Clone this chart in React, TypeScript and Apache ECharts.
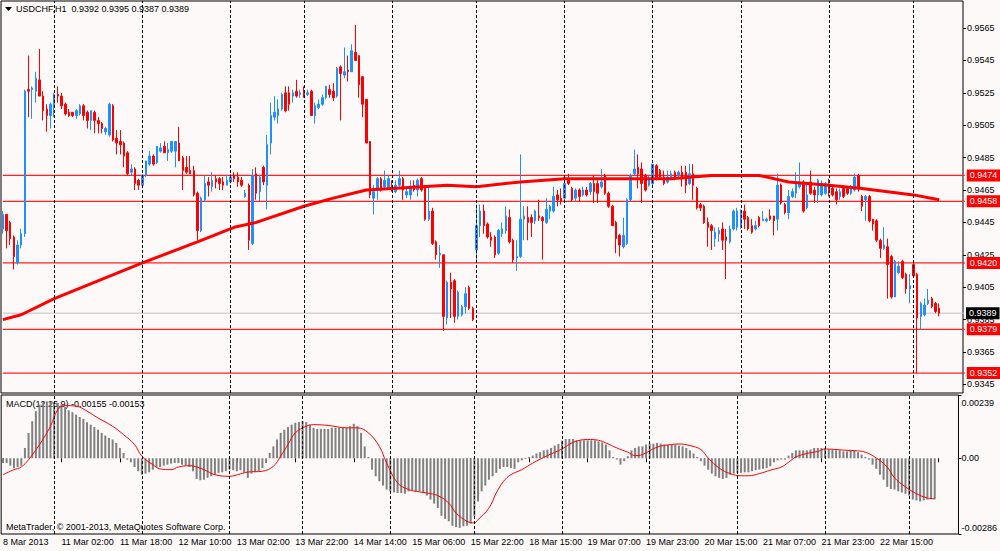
import React, { useEffect, useRef } from "react";
import * as echarts from "echarts";

const FONT = '"Liberation Sans", Arial, sans-serif';
const BG = "#fcf9f8";
const BULL = "#1e90ff";
const BEAR = "#ff0000";

// trading sessions: [day, first hour, last hour]
const SESSIONS: [string, number, number][] = [
  ["8 Mar", 10, 23], ["11 Mar", 0, 23], ["12 Mar", 0, 23], ["13 Mar", 0, 13], ["13 Mar", 18, 23],
  ["14 Mar", 0, 23], ["15 Mar", 0, 22], ["18 Mar", 0, 23], ["19 Mar", 0, 23], ["20 Mar", 0, 23],
  ["21 Mar", 0, 23], ["22 Mar", 0, 22], ["23 Mar", 0, 7],
];
const FIRST_LABEL = "8 Mar 2013";
const RIGHT_PAD = 6;

const PRICE_TICKS = [0.9345, 0.9365, 0.9385, 0.9405, 0.9425, 0.9445, 0.9465, 0.9485, 0.9505, 0.9525, 0.9545, 0.9565];
const MACD_TICKS = [0.00239, 0, -0.00286];
const LEVELS = [0.9474, 0.9458, 0.942, 0.9379, 0.9352];
const BID = 0.9389;
const TITLE = "USDCHF,H1  0.9392 0.9395 0.9387 0.9389";
const MACD_TITLE = "MACD(12,26,9) -0.00155 -0.00153";
const COPYRIGHT = "MetaTrader, \u00a9 2001-2013, MetaQuotes Software Corp.";

// [open, close, low, high]
const CANDLES: number[][] = [
  [0.9441, 0.945, 0.9438, 0.9452], [0.945, 0.944, 0.9429, 0.945], [0.9445, 0.9435, 0.9431, 0.9446], [0.9436, 0.9424, 0.9416, 0.9437],
  [0.942, 0.9431, 0.9419, 0.9434], [0.9431, 0.9438, 0.9429, 0.9441], [0.9438, 0.9526, 0.9436, 0.9527], [0.9527, 0.9526, 0.951, 0.9548],
  [0.9527, 0.9528, 0.9509, 0.9529], [0.9526, 0.9534, 0.9519, 0.9538], [0.9533, 0.9523, 0.9523, 0.9552], [0.9523, 0.9514, 0.9508, 0.9526],
  [0.9515, 0.9511, 0.9501, 0.9518], [0.9511, 0.9518, 0.9503, 0.9519], [0.9516, 0.9524, 0.951, 0.9525], [0.9524, 0.9523, 0.9519, 0.9529],
  [0.9523, 0.9517, 0.9515, 0.9525], [0.9518, 0.9512, 0.9511, 0.9519], [0.9513, 0.9511, 0.951, 0.9515], [0.9513, 0.9511, 0.951, 0.9513],
  [0.9511, 0.9514, 0.9509, 0.9515], [0.9512, 0.9517, 0.9511, 0.9518], [0.9517, 0.9511, 0.9508, 0.9518], [0.9513, 0.9508, 0.9503, 0.9514],
  [0.9508, 0.9514, 0.9502, 0.9514], [0.9513, 0.9508, 0.95, 0.9514], [0.9508, 0.9506, 0.95, 0.951], [0.9506, 0.9503, 0.95, 0.9507],
  [0.9501, 0.9503, 0.9499, 0.9504], [0.9499, 0.9518, 0.9498, 0.9519], [0.9517, 0.9496, 0.9495, 0.9518], [0.9497, 0.9494, 0.9487, 0.9502],
  [0.9495, 0.9493, 0.9487, 0.9502], [0.9494, 0.9486, 0.9479, 0.9495], [0.9488, 0.9475, 0.9474, 0.9489], [0.9476, 0.9478, 0.9474, 0.9481],
  [0.9478, 0.9469, 0.9465, 0.9479], [0.9471, 0.9468, 0.9465, 0.9472], [0.9468, 0.9474, 0.9466, 0.9475], [0.9474, 0.9483, 0.9473, 0.9483],
  [0.9481, 0.9486, 0.948, 0.9489], [0.9486, 0.9481, 0.948, 0.9487], [0.9482, 0.9492, 0.9481, 0.9492], [0.9489, 0.9491, 0.9488, 0.9494],
  [0.9492, 0.9488, 0.9488, 0.9495], [0.9488, 0.949, 0.9483, 0.9494], [0.9489, 0.9495, 0.9488, 0.9495], [0.9489, 0.9495, 0.9479, 0.9495],
  [0.9494, 0.9483, 0.9483, 0.9504], [0.9485, 0.9477, 0.9465, 0.9486], [0.9479, 0.9476, 0.9475, 0.9486], [0.9477, 0.9475, 0.9475, 0.9486],
  [0.9477, 0.9462, 0.9461, 0.948], [0.9463, 0.944, 0.9434, 0.9464], [0.944, 0.946, 0.9439, 0.9461], [0.9459, 0.9469, 0.9458, 0.9474],
  [0.947, 0.9468, 0.9461, 0.9473], [0.9467, 0.9471, 0.9464, 0.9476], [0.9472, 0.947, 0.9466, 0.9474], [0.9472, 0.9469, 0.9465, 0.9473],
  [0.947, 0.9468, 0.9465, 0.9473], [0.9468, 0.9471, 0.9468, 0.9474], [0.947, 0.9473, 0.9469, 0.9475], [0.9474, 0.9472, 0.947, 0.9476],
  [0.9473, 0.947, 0.9467, 0.9476], [0.9471, 0.9468, 0.9467, 0.9473], [0.9461, 0.9463, 0.946, 0.9465], [0.9468, 0.9434, 0.9428, 0.9469],
  [0.9432, 0.9474, 0.9431, 0.9478], [0.9475, 0.9463, 0.9459, 0.9479], [0.9464, 0.9473, 0.9458, 0.9474], [0.9479, 0.947, 0.9468, 0.948],
  [0.9468, 0.9493, 0.9453, 0.9499], [0.9494, 0.9511, 0.9487, 0.9519], [0.951, 0.9513, 0.9508, 0.9523], [0.9511, 0.9515, 0.9506, 0.9521],
  [0.9515, 0.9524, 0.9514, 0.9525], [0.9525, 0.9514, 0.9513, 0.9529], [0.9525, 0.9518, 0.9514, 0.9529], [0.9523, 0.9525, 0.9519, 0.9527],
  [0.9526, 0.9523, 0.9522, 0.9533], [0.9524, 0.9525, 0.9522, 0.9527], [0.9525, 0.9524, 0.9522, 0.9529], [0.9524, 0.9525, 0.9523, 0.9527],
  [0.9526, 0.9511, 0.9511, 0.9527], [0.9511, 0.9517, 0.9506, 0.9519], [0.9516, 0.9518, 0.9515, 0.9521], [0.9518, 0.9522, 0.9517, 0.9524],
  [0.9522, 0.9529, 0.9521, 0.9529], [0.9527, 0.9524, 0.9522, 0.953], [0.9526, 0.9522, 0.952, 0.9531], [0.9523, 0.954, 0.9522, 0.9541],
  [0.9541, 0.9537, 0.9508, 0.9542], [0.9536, 0.9538, 0.9534, 0.9553], [0.9539, 0.9538, 0.9532, 0.9548], [0.9538, 0.9551, 0.9538, 0.9555],
  [0.955, 0.9545, 0.9545, 0.9567], [0.9548, 0.953, 0.9522, 0.9548], [0.9535, 0.9518, 0.951, 0.9535], [0.9521, 0.9494, 0.9494, 0.9521],
  [0.9495, 0.9462, 0.946, 0.9495], [0.946, 0.9464, 0.945, 0.9468], [0.9465, 0.9472, 0.9459, 0.9473], [0.9472, 0.9465, 0.9464, 0.9473],
  [0.9467, 0.9471, 0.9466, 0.9477], [0.9466, 0.9472, 0.9465, 0.9474], [0.9468, 0.9465, 0.9464, 0.9471], [0.9464, 0.9468, 0.9463, 0.9471],
  [0.9468, 0.9472, 0.9467, 0.9477], [0.9472, 0.9465, 0.9459, 0.9473], [0.9462, 0.9464, 0.946, 0.9467], [0.9462, 0.9466, 0.9459, 0.9471],
  [0.9468, 0.9465, 0.9464, 0.9471], [0.9465, 0.9471, 0.9461, 0.9472], [0.9472, 0.9465, 0.9464, 0.9473], [0.9466, 0.9447, 0.9446, 0.9467],
  [0.9447, 0.9452, 0.9446, 0.9467], [0.9452, 0.9432, 0.9431, 0.9454], [0.9433, 0.9425, 0.9422, 0.9434], [0.9425, 0.9426, 0.9417, 0.9431],
  [0.9425, 0.9387, 0.9378, 0.9425], [0.9386, 0.9408, 0.9382, 0.9409], [0.9408, 0.9404, 0.9386, 0.9414], [0.9409, 0.9387, 0.9383, 0.941],
  [0.9387, 0.9402, 0.9385, 0.9403], [0.9388, 0.9393, 0.9387, 0.9394], [0.9393, 0.9401, 0.9389, 0.9405], [0.9405, 0.9392, 0.9391, 0.9406],
  [0.9392, 0.9385, 0.9384, 0.9393], [0.9428, 0.9443, 0.9421, 0.9456], [0.9443, 0.9452, 0.9436, 0.9456], [0.9452, 0.9443, 0.9438, 0.9456],
  [0.9444, 0.9436, 0.9435, 0.9445], [0.9436, 0.9434, 0.943, 0.9439], [0.9436, 0.9425, 0.9423, 0.9437], [0.9426, 0.944, 0.9425, 0.9441],
  [0.9438, 0.9441, 0.9436, 0.9445], [0.944, 0.9449, 0.9438, 0.9455], [0.9448, 0.9433, 0.9432, 0.9453], [0.9434, 0.9422, 0.942, 0.9435],
  [0.9423, 0.9424, 0.9415, 0.9434], [0.9424, 0.9447, 0.9423, 0.9487], [0.9447, 0.9449, 0.9434, 0.9455], [0.9448, 0.9445, 0.9434, 0.9455],
  [0.9448, 0.9445, 0.9436, 0.945], [0.9446, 0.9452, 0.9444, 0.9453], [0.9449, 0.9448, 0.9446, 0.9459], [0.9448, 0.9446, 0.9422, 0.9449],
  [0.9445, 0.9453, 0.9444, 0.946], [0.9452, 0.9455, 0.9447, 0.9456], [0.9452, 0.9461, 0.9451, 0.9467], [0.9462, 0.9459, 0.9455, 0.9465],
  [0.946, 0.9458, 0.9456, 0.9466], [0.946, 0.9469, 0.9458, 0.9471], [0.9472, 0.9469, 0.9468, 0.9475], [0.9466, 0.9459, 0.9458, 0.9467],
  [0.946, 0.9465, 0.9458, 0.9466], [0.9465, 0.9461, 0.9458, 0.9466], [0.9462, 0.9465, 0.9461, 0.9467], [0.9465, 0.9462, 0.9461, 0.9467],
  [0.9464, 0.9469, 0.9462, 0.947], [0.9469, 0.9464, 0.9457, 0.9474], [0.9469, 0.9463, 0.9457, 0.9471], [0.9467, 0.947, 0.9466, 0.9478],
  [0.9474, 0.9463, 0.9462, 0.9475], [0.9463, 0.9455, 0.9454, 0.9464], [0.9455, 0.9443, 0.9443, 0.9456], [0.9445, 0.9435, 0.9426, 0.9446],
  [0.9437, 0.9431, 0.9424, 0.9438], [0.943, 0.9437, 0.9429, 0.9448], [0.9432, 0.9459, 0.9431, 0.946], [0.9459, 0.9474, 0.9458, 0.9475],
  [0.9475, 0.9478, 0.9474, 0.949], [0.9479, 0.9475, 0.9466, 0.9487], [0.9478, 0.9469, 0.9457, 0.9482], [0.9474, 0.9465, 0.9464, 0.9475],
  [0.9468, 0.9472, 0.9467, 0.9474], [0.9469, 0.9481, 0.9468, 0.9481], [0.948, 0.9472, 0.9471, 0.9481], [0.9477, 0.9473, 0.9472, 0.9478],
  [0.9473, 0.9469, 0.9468, 0.9477], [0.947, 0.9473, 0.9469, 0.9477], [0.9472, 0.9475, 0.9471, 0.9477], [0.9476, 0.9472, 0.9471, 0.9477],
  [0.9474, 0.9476, 0.9473, 0.9477], [0.9476, 0.9473, 0.9467, 0.948], [0.9476, 0.9468, 0.9463, 0.948], [0.9469, 0.9475, 0.9468, 0.9481],
  [0.9475, 0.9468, 0.9459, 0.9481], [0.9466, 0.9454, 0.9453, 0.9467], [0.9456, 0.9454, 0.9452, 0.9457], [0.9455, 0.9445, 0.9444, 0.9456],
  [0.9445, 0.9442, 0.943, 0.9448], [0.9443, 0.944, 0.9428, 0.9444], [0.9435, 0.9439, 0.943, 0.9442], [0.9438, 0.944, 0.9433, 0.9442],
  [0.9441, 0.9434, 0.9428, 0.9445], [0.9436, 0.9434, 0.941, 0.9441], [0.9433, 0.9441, 0.9432, 0.9443], [0.9441, 0.9452, 0.944, 0.9453],
  [0.9442, 0.9452, 0.944, 0.9454], [0.9442, 0.9451, 0.9441, 0.9453], [0.9452, 0.9447, 0.9441, 0.9456], [0.9448, 0.9441, 0.944, 0.9449],
  [0.9443, 0.9439, 0.9438, 0.9447], [0.9441, 0.9443, 0.944, 0.9446], [0.9448, 0.9443, 0.9442, 0.9449], [0.9446, 0.9447, 0.9446, 0.9452],
  [0.9446, 0.9447, 0.9445, 0.9448], [0.9449, 0.9447, 0.9446, 0.9453], [0.9449, 0.9446, 0.9437, 0.9449], [0.9447, 0.9468, 0.944, 0.9475],
  [0.9468, 0.9457, 0.9456, 0.9469], [0.9456, 0.9451, 0.945, 0.9457], [0.9451, 0.9461, 0.9447, 0.9465], [0.9461, 0.9464, 0.946, 0.9466],
  [0.9463, 0.947, 0.946, 0.9476], [0.9467, 0.947, 0.9466, 0.9482], [0.947, 0.9452, 0.9451, 0.9471], [0.9454, 0.9462, 0.9453, 0.947],
  [0.947, 0.9463, 0.9462, 0.9477], [0.9465, 0.9462, 0.9457, 0.9467], [0.9462, 0.9471, 0.9457, 0.9472], [0.9462, 0.9469, 0.9461, 0.9471],
  [0.9463, 0.9469, 0.9462, 0.947], [0.9467, 0.9465, 0.9461, 0.9472], [0.9466, 0.9462, 0.9461, 0.9467], [0.9464, 0.9459, 0.9456, 0.9466],
  [0.9461, 0.9464, 0.9459, 0.9466], [0.9466, 0.9461, 0.946, 0.9467], [0.9466, 0.9463, 0.9462, 0.9467], [0.9463, 0.9467, 0.9462, 0.9468],
  [0.9465, 0.9473, 0.9464, 0.9475], [0.9474, 0.9466, 0.9464, 0.9475], [0.9461, 0.9455, 0.9452, 0.9462], [0.9459, 0.9461, 0.9446, 0.9462],
  [0.9461, 0.9446, 0.9445, 0.9462], [0.9447, 0.9444, 0.944, 0.9447], [0.9446, 0.9434, 0.9433, 0.9447], [0.9434, 0.9429, 0.9423, 0.9435],
  [0.9429, 0.9431, 0.9428, 0.9442], [0.943, 0.9419, 0.9398, 0.9435], [0.9424, 0.9399, 0.9398, 0.9425], [0.9399, 0.9421, 0.9399, 0.9422],
  [0.9414, 0.9418, 0.9413, 0.9421], [0.9421, 0.9411, 0.941, 0.9422], [0.9413, 0.9404, 0.9401, 0.9414], [0.9404, 0.9406, 0.9395, 0.9413],
  [0.9419, 0.9412, 0.9411, 0.942], [0.9413, 0.9386, 0.9352, 0.9414], [0.9387, 0.9395, 0.9379, 0.9396], [0.9388, 0.9394, 0.9387, 0.9398],
  [0.9395, 0.9397, 0.9394, 0.9404], [0.9398, 0.9393, 0.9392, 0.9399], [0.9395, 0.939, 0.9389, 0.9396], [0.9392, 0.9389, 0.9387, 0.9395],
];

// moving average, read at [bar, price]
const MA_POINTS: [number, number][] = [
  [0, 0.9385], [5, 0.9388], [14, 0.9398], [38, 0.942], [53, 0.9433], [63, 0.9442], [69, 0.9445], [82, 0.9455],
  [90, 0.946], [99, 0.9465], [106, 0.9466], [114, 0.9467], [121, 0.9468], [129, 0.9467], [141, 0.947], [153, 0.9472],
  [163, 0.9472], [173, 0.9472], [182, 0.9472], [193, 0.9474], [206, 0.9474], [214, 0.947], [225, 0.9468], [234, 0.9466],
  [241, 0.9464], [248, 0.9462], [255, 0.9459],
];

const MACD_MAIN: number[] = [
  -0.00018, -0.00018, -0.00028, -0.00037, -0.00033, -0.00028, 0.00039, 0.00096, 0.0014, 0.00178,
  0.00203, 0.00212, 0.00215, 0.00212, 0.00212, 0.00209, 0.00203, 0.00194, 0.00181, 0.00174,
  0.00165, 0.00156, 0.00149, 0.00136, 0.00127, 0.00118, 0.00108, 0.00096, 0.00086, 0.00077,
  0.00071, 0.00058, 0.00039, 0.0002, -0.00005, -0.00015, -0.00033, -0.00049, -0.00062, -0.00058,
  -0.00053, -0.00043, -0.00033, -0.00033, -0.00028, -0.00024, -0.0002, -0.00018, -0.00018, -0.00024,
  -0.00028, -0.00033, -0.00049, -0.00078, -0.00083, -0.00081, -0.00074, -0.00068, -0.00062, -0.00055,
  -0.00053, -0.00049, -0.00043, -0.00045, -0.00049, -0.00045, -0.00055, -0.00074, -0.00058, -0.00053,
  -0.00049, -0.00037, -0.00018, 0.0002, 0.00045, 0.00071, 0.00096, 0.00108, 0.00118, 0.00127,
  0.00134, 0.00137, 0.0014, 0.00137, 0.00127, 0.00115, 0.00111, 0.00111, 0.00111, 0.00111,
  0.00115, 0.00115, 0.00115, 0.00115, 0.00115, 0.00121, 0.0013, 0.00121, 0.00096, 0.00045,
  0.00005, -0.00043, -0.00068, -0.00087, -0.00103, -0.00118, -0.00125, -0.00129, -0.00131, -0.00131,
  -0.00134, -0.00125, -0.00121, -0.00125, -0.00125, -0.00131, -0.00141, -0.00156, -0.00171, -0.00188,
  -0.00217, -0.00229, -0.00238, -0.00255, -0.0026, -0.00263, -0.00257, -0.00255, -0.00247, -0.00219,
  -0.00163, -0.00125, -0.00103, -0.00081, -0.00068, -0.00055, -0.0004, -0.00033, -0.00033, -0.00037,
  -0.0004, -0.00015, -0.00008, -0.00003, 0.00005, 0.0001, 0.00018, 0.00023, 0.0003, 0.00033,
  0.00039, 0.00048, 0.00054, 0.00067, 0.00073, 0.00073, 0.00073, 0.00068, 0.00068, 0.00068,
  0.00068, 0.00068, 0.00068, 0.00064, 0.0006, 0.00052, 0.0003, 0.00005, -0.00005, -0.00024,
  -0.00011, 0.00008, 0.0003, 0.00039, 0.00045, 0.00045, 0.00052, 0.00055, 0.00055, 0.00058,
  0.00055, 0.00052, 0.00052, 0.00052, 0.00052, 0.00048, 0.00045, 0.00039, 0.0003, 0.00018,
  0.00005, -0.00011, -0.00028, -0.00043, -0.00058, -0.00068, -0.00074, -0.00078, -0.00074, -0.00062,
  -0.00058, -0.00055, -0.00055, -0.00053, -0.00053, -0.00049, -0.00045, -0.00043, -0.0004, -0.00037,
  -0.0003, -0.00015, -0.00008, -0.00005, -0.00005, 0.0001, 0.0002, 0.0003, 0.0003, 0.0003,
  0.0003, 0.00033, 0.00039, 0.00039, 0.00039, 0.00039, 0.00033, 0.00033, 0.0003, 0.0003,
  0.00026, 0.00026, 0.0003, 0.0003, 0.00023, 0.00014, 0.00005, -0.00005, -0.00024, -0.0004,
  -0.00062, -0.00081, -0.00108, -0.00116, -0.00118, -0.00125, -0.00129, -0.00134, -0.00141, -0.00156,
  -0.00159, -0.00163, -0.00159, -0.00156, -0.00154, -0.00155,
];

// signal line, read at [bar, value]
const MACD_SIGNAL: [number, number][] = [
  [0, -0.00062], [3, -0.00043], [5, -0.00033], [7, -0.00005], [10, 0.00052], [13, 0.00121], [15, 0.00184], [17, 0.00199],
  [20, 0.00197], [23, 0.00178], [26, 0.00152], [30, 0.00121], [33, 0.00089], [36, 0.00052], [38, 0.00008], [41, -0.00024],
  [43, -0.0004], [46, -0.00043], [48, -0.00033], [51, -0.00028], [55, -0.00043], [58, -0.00062], [62, -0.00068], [65, -0.00059],
  [67, -0.00052], [71, -0.00049], [74, -0.0003], [76, 0.00008], [78, 0.00052], [80, 0.00096], [83, 0.00121], [85, 0.00127],
  [89, 0.00124], [94, 0.00115], [97, 0.00115], [100, 0.00096], [103, 0.00045], [105, -0.00018], [108, -0.00093], [111, -0.00118],
  [114, -0.00127], [116, -0.00131], [119, -0.00141], [122, -0.00169], [124, -0.00207], [127, -0.00238], [129, -0.00244], [130, -0.00232],
  [133, -0.00188], [135, -0.00131], [137, -0.00087], [139, -0.00062], [142, -0.00043], [145, -0.00018], [149, 0.0001], [153, 0.00035],
  [156, 0.0006], [160, 0.00071], [163, 0.00068], [165, 0.00058], [168, 0.00039], [171, 0.00023], [173, 0.0001], [175, 0.00014],
  [179, 0.00042], [183, 0.00052], [185, 0.00054], [188, 0.00048], [191, 0.00033], [193, 0.00001], [196, -0.00037], [199, -0.00058],
  [202, -0.00066], [204, -0.00066], [207, -0.00058], [210, -0.00045], [213, -0.00033], [215, -0.00015], [217, 0.00005], [220, 0.00018],
  [223, 0.00026], [225, 0.00035], [228, 0.00033], [231, 0.0003], [233, 0.00029], [236, 0.00023], [239, 0.00001], [242, -0.00033],
  [244, -0.00074], [247, -0.00108], [250, -0.00134], [253, -0.0015], [255, -0.00153],
];

// ---- derived category axis ----
const CATEGORIES: string[] = [];
const DAY_OF: string[] = [];
SESSIONS.forEach(([day, h0, h1]) => {
  for (let h = h0; h <= h1; h++) {
    CATEGORIES.push(`${day} ${h < 10 ? "0" + h : h}:00`);
    DAY_OF.push(day);
  }
});
const SEPARATORS: number[] = [];
for (let i = 1; i < DAY_OF.length; i++) if (DAY_OF[i] !== DAY_OF[i - 1]) SEPARATORS.push(i);
for (let i = 0; i < RIGHT_PAD; i++) CATEGORIES.push("");

const sepStyle = { color: "#000", type: [3, 2] as any, width: 1 };
const sepData = SEPARATORS.map((i) => ({ xAxis: i, lineStyle: sepStyle, label: { show: false } }));

// horizontal price level drawn as a two-point line spanning the whole pane
function levelSeries(v: number, line: string, box: string, width: number) {
  return {
    type: "line", xAxisIndex: 0, yAxisIndex: 0, z: 2, silent: true,
    data: [[-0.5, v], [CATEGORIES.length - 0.5, v]],
    symbol: "none", clip: false, color: line,
    itemStyle: { color: line },
    lineStyle: { color: line, width },
    endLabel: {
      show: true, distance: 2, formatter: v.toFixed(4), color: "#fff",
      backgroundColor: box, padding: [2, 3, 1, 3], fontFamily: FONT, fontSize: 9,
    },
  };
}

function buildOption(): any {
  const textBase = { fontFamily: FONT, fontSize: 9 };
  return {
    animation: false,
    backgroundColor: BG,
    textStyle: textBase,
    grid: [
      { left: 1, right: 37, top: 1, height: 392, show: true, borderColor: "#000", borderWidth: 1, backgroundColor: "transparent" },
      { left: 1, right: 37, top: 395, height: 139, show: true, borderColor: "#000", borderWidth: 1, backgroundColor: "transparent" },
    ],
    xAxis: [
      {
        type: "category", gridIndex: 0, data: CATEGORIES, boundaryGap: true,
        axisLine: { show: false }, axisTick: { show: false }, axisLabel: { show: false }, splitLine: { show: false },
      },
      {
        type: "category", gridIndex: 1, data: CATEGORIES, boundaryGap: true,
        axisLine: { show: false },
        axisTick: { show: true, interval: 15, alignWithLabel: true, length: 4, lineStyle: { color: "#000" } },
        axisLabel: {
          interval: 15, align: "left", margin: 3, color: "#000", ...textBase,
          formatter: (v: string, i: number) => (i === 0 ? FIRST_LABEL : v),
        },
        splitLine: { show: false },
      },
    ],
    yAxis: [
      {
        type: "value", gridIndex: 0, position: "right", min: 0.93397, max: 0.95817,
        splitLine: { show: false }, axisLine: { show: false },
        axisTick: { show: true, customValues: PRICE_TICKS, length: 3, lineStyle: { color: "#000" } },
        axisLabel: { customValues: PRICE_TICKS, margin: 4, color: "#000", ...textBase, formatter: (v: number) => v.toFixed(4) },
      },
      {
        type: "value", gridIndex: 1, position: "right", min: -0.00286, max: 0.00239,
        splitLine: { show: false }, axisLine: { show: false },
        axisTick: { show: true, customValues: MACD_TICKS, length: 3, lineStyle: { color: "#000" } },
        axisLabel: {
          customValues: MACD_TICKS, margin: 3, color: "#000", ...textBase,
          formatter: (v: number) => {
            if (v > 0) return `{t|${v.toFixed(5)}}`;
            if (v < 0) return `{b|${v.toFixed(5)}}`;
            return "0.00";
          },
          rich: {
            t: { padding: [15, 0, 0, 0], fontSize: 9, fontFamily: FONT, color: "#000" },
            b: { padding: [0, 0, 13, 0], fontSize: 9, fontFamily: FONT, color: "#000" },
          },
        },
      },
    ],
    series: [
      {
        name: "separators", type: "line", xAxisIndex: 0, yAxisIndex: 0, data: [], z: 1, silent: true,
        markLine: { silent: true, symbol: ["none", "none"], animation: false, data: sepData },
      },
      ...LEVELS.map((v) => levelSeries(v, "#ff2020", "#ff0000", 1.3)),
      levelSeries(BID, "#c0c0c0", "#000", 1),
      {
        name: "USDCHF", type: "candlestick", xAxisIndex: 0, yAxisIndex: 0, data: CANDLES, z: 3,
        barWidth: 2,
        itemStyle: { color: BULL, color0: BEAR, borderColor: BULL, borderColor0: BEAR, borderWidth: 1 },
      },
      {
        name: "MA", type: "line", xAxisIndex: 0, yAxisIndex: 0, data: MA_POINTS, z: 4,
        symbol: "none", color: "#ff0000", lineStyle: { color: "#ff0000", width: 3 },
      },
      {
        name: "macdSep", type: "line", xAxisIndex: 1, yAxisIndex: 1, data: [], z: 1, silent: true,
        markLine: { silent: true, symbol: ["none", "none"], animation: false, data: sepData },
      },
      {
        name: "MACD", type: "bar", xAxisIndex: 1, yAxisIndex: 1, data: MACD_MAIN, z: 2,
        barWidth: 2, itemStyle: { color: "#808080" },
      },
      {
        name: "Signal", type: "line", xAxisIndex: 1, yAxisIndex: 1, data: MACD_SIGNAL, z: 3,
        symbol: "none", smooth: 0.4, color: "#ff0000", lineStyle: { color: "#ff0000", width: 1 },
      },
    ],
    graphic: [
      { type: "polygon", shape: { points: [[5, 7], [12, 7], [8.5, 11]] }, style: { fill: "#000" } },
      { type: "text", x: 16, y: 9, style: { text: TITLE, fill: "#000", ...textBase, verticalAlign: "middle" } },
      { type: "text", x: 6, y: 404, style: { text: MACD_TITLE, fill: "#000", ...textBase, verticalAlign: "middle" } },
      { type: "text", x: 6, y: 527, style: { text: COPYRIGHT, fill: "#000", ...textBase, verticalAlign: "middle" } },
    ],
  };
}

export default function App() {
  const ref = useRef<HTMLDivElement>(null);
  useEffect(() => {
    document.body.style.margin = "0";
    const chart = echarts.init(ref.current as HTMLDivElement, null, { renderer: "svg" });
    chart.setOption(buildOption());
    return () => chart.dispose();
  }, []);
  return <div ref={ref} style={{ width: 1000, height: 551 }} />;
}
